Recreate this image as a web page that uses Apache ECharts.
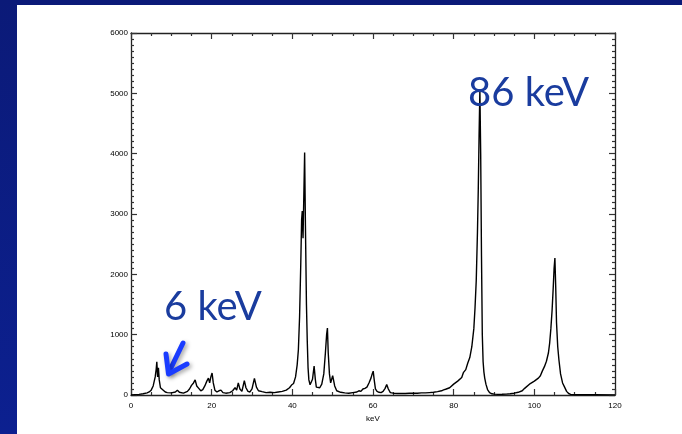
<!DOCTYPE html>
<html><head><meta charset="utf-8">
<script src="https://cdn.jsdelivr.net/npm/echarts@6/dist/echarts.min.js"></script>
<style>
html,body{margin:0;padding:0;width:682px;height:434px;overflow:hidden;background:linear-gradient(180deg,#0b1a78 0%,#0c2090 100%);}
#panel{position:absolute;left:17px;top:5px;width:665px;height:429px;background:#fff;}
#chart{position:absolute;left:0;top:0;width:682px;height:434px;}
</style></head>
<body>
<div id="panel"></div>
<div id="chart"></div>
<script>
var energy = [0,1,2,3,4,4.5,5,5.5,6,6.25,6.4,6.6,6.8,7,7.3,7.6,8,8.5,9,10,11,11.5,12,13,14,14.5,15,15.5,15.9,16.3,16.8,17.3,17.8,18.3,18.8,19.2,19.5,19.8,20.1,20.4,20.8,21.3,21.8,22.3,22.8,23.5,24.5,25.2,25.8,26.2,26.6,27,27.5,28.1,28.5,29,29.5,30,30.6,31.1,31.6,32.5,33.5,34.5,35.5,36.5,37.5,38.5,39.3,39.8,40.3,40.8,41.2,41.5,41.8,42.1,42.3,42.46,42.65,42.85,43.05,43.25,43.5,43.7,43.9,44.1,44.4,44.7,45,45.4,45.7,45.95,46.3,46.8,47.3,47.8,48.2,48.5,48.7,48.9,49.2,49.5,49.7,50,50.2,50.5,51,52,53,54,55,56,56.5,57,57.5,58,58.5,59,59.5,59.8,60.05,60.3,60.6,61,61.5,62,62.5,63,63.4,63.8,64.3,65,66,67,68,69,70,71,72,73,74,75,76,77,77.5,78,79,80,81,82,82.4,83,83.5,84,84.5,85,85.3,85.6,85.9,86.1,86.3,86.5,86.7,86.9,87.1,87.3,87.5,87.7,88,88.4,88.9,89.5,90,91,92,93,94,95,96,97,97.6,98,99,100,101,101.5,102,102.5,103,103.5,103.8,104.1,104.4,104.7,104.9,105.1,105.3,105.5,105.8,106.1,106.5,107,107.5,108,108.5,109,110,112,115,120];
var counts = [0,5,10,20,35,50,80,150,300,430,550,300,450,250,120,150,80,50,40,35,50,80,45,30,60,100,160,200,250,150,110,70,90,150,230,280,200,300,365,200,80,50,70,80,40,30,40,70,120,80,200,100,60,237,120,60,50,100,277,130,70,55,40,45,40,50,60,80,120,165,190,300,500,750,1300,2200,2900,3050,2600,3300,4020,2800,1500,900,450,250,170,170,260,480,260,130,100,120,180,350,700,1000,1110,700,350,200,170,320,300,150,70,45,35,30,40,50,70,60,100,110,130,200,280,350,395,250,100,60,45,40,60,110,175,100,40,30,25,25,25,30,30,30,35,35,40,45,55,70,85,95,120,180,230,290,370,420,530,620,800,1100,1450,1900,2700,3400,4300,5050,4000,2300,1000,550,380,280,180,90,40,20,15,10,12,15,20,30,45,70,110,140,190,230,280,320,400,470,560,700,860,1100,1400,1800,2100,2270,1800,1200,800,580,350,200,130,60,25,10,5,3,3,2];
var xTicks = [0,20,40,60,80,100,120];
var yTicks = [0,1000,2000,3000,4000,5000,6000];
var xName = 'keV';
var notes = ['86 keV','6 keV'];

var data = energy.map(function(e,i){return [e,counts[i]];});
var chart = echarts.init(document.getElementById('chart'));
var lab = {fontSize:8,color:'#000',fontFamily:'Liberation Sans, Arial, sans-serif'};
function fmt(v){return String(v);}
function xa(pos,show){return {type:'value',position:pos,min:xTicks[0],max:xTicks[xTicks.length-1],interval:20,
  axisLine:{show:true,onZero:false,lineStyle:{color:'#222',width:1.3}},
  axisTick:{show:true,inside:true,length:6,lineStyle:{color:'#333',width:1.2}},
  minorTick:{show:true,splitNumber:4,length:3,lineStyle:{color:'#333',width:1.2}},
  axisLabel:Object.assign({show:show,margin:7,formatter:fmt},lab),splitLine:{show:false},minorSplitLine:{show:false},
  name:show?xName:'',nameLocation:'middle',nameGap:19,nameTextStyle:lab};}
function ya(pos,show){return {type:'value',position:pos,min:yTicks[0],max:yTicks[yTicks.length-1],interval:1000,
  axisLine:{show:true,onZero:false,lineStyle:{color:'#222',width:1.3}},
  axisTick:{show:true,inside:true,length:6,lineStyle:{color:'#333',width:1.2}},
  minorTick:{show:true,splitNumber:10,length:3,lineStyle:{color:'#333',width:1.2}},
  axisLabel:Object.assign({show:show,margin:3,formatter:fmt},lab),splitLine:{show:false},minorSplitLine:{show:false}};}
chart.setOption({
  animation:false,
  grid:{left:131,right:67,top:33,bottom:39,containLabel:false},
  xAxis:[xa('bottom',true),xa('top',false)],
  yAxis:[ya('left',true),ya('right',false)],
  series:[{type:'line',xAxisIndex:0,yAxisIndex:0,data:data,showSymbol:false,
    lineStyle:{color:'#000',width:1.4},z:3}],
  graphic:[
    {type:'text',left:468,top:73,z:10,style:{text:notes[0],fill:'#1a3c9e',font:'40px Lato, "Open Sans", sans-serif'}},
    {type:'text',left:164,top:287,z:10,style:{text:notes[1],fill:'#1a3c9e',font:'40px Lato, "Open Sans", sans-serif'}},
    {type:'polyline',z:10,shape:{points:[[183,343],[169,372]]},style:{stroke:'#1a3cff',lineWidth:5,lineCap:'round',shadowBlur:4,shadowColor:'rgba(0,0,0,0.35)',shadowOffsetX:2,shadowOffsetY:2}},
    {type:'polyline',z:10,shape:{points:[[166,354],[168.5,374],[187,364]]},style:{stroke:'#1a3cff',lineWidth:5,lineCap:'round',lineJoin:'round',fill:null,shadowBlur:4,shadowColor:'rgba(0,0,0,0.35)',shadowOffsetX:2,shadowOffsetY:2}}
  ]
});
</script>
</body></html>
